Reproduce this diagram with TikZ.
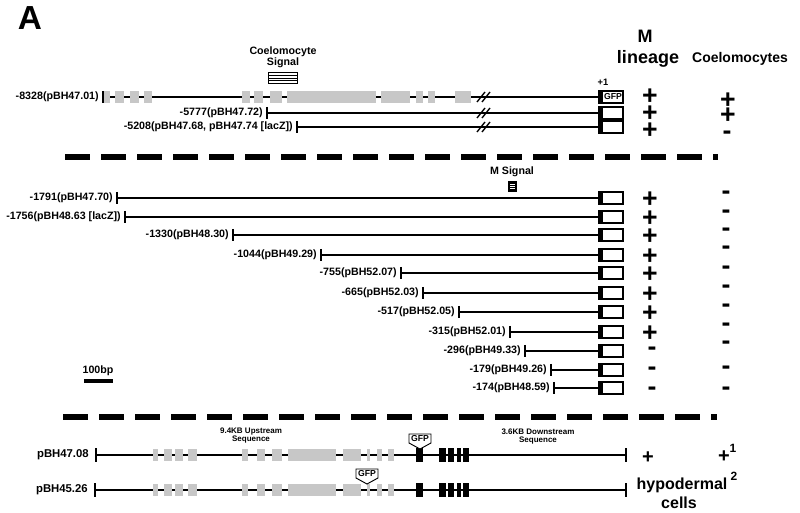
\documentclass[tikz,border=0pt]{standalone}
\usepackage{fontspec}
\setmainfont{Liberation Sans}
\usetikzlibrary{calc}
\begin{document}
\begin{tikzpicture}[x=0.75pt,y=-0.75pt,
  lab/.style={font=\fontsize{8}{9.6}\selectfont\bfseries, inner sep=0pt, anchor=east},
  blab/.style={font=\fontsize{8.5}{10}\selectfont\bfseries, inner sep=0pt, anchor=east},
  dna/.style={line width=1.3pt},
  tickst/.style={line width=1.9pt},
  endtick/.style={line width=1pt},
  gfpbox/.style={draw, line width=0.8pt, minimum width=18pt, minimum height=9pt, inner sep=0pt,
    font=\fontsize{6.5}{7}\selectfont\bfseries,
    path picture={\fill[black] (path picture bounding box.south west) rectangle ([xshift=3pt]path picture bounding box.north west);}},
  exon/.style={fill=black!22},
  bexon/.style={fill=black},
  pmst/.style={font=\fontsize{20}{20}\selectfont\bfseries, inner sep=0pt, anchor=base},
  pmsmall/.style={font=\fontsize{15}{15}\selectfont\bfseries, inner sep=0pt, anchor=base},
  sepline/.style={line width=4.5pt, dash pattern=on 18.75pt off 8.25pt},
  hdr/.style={font=\fontsize{13.5}{14}\selectfont\bfseries, inner sep=0pt, anchor=base},
  smalltxt/.style={font=\fontsize{6}{6}\selectfont\bfseries, align=center, inner sep=0pt},
  midtxt/.style={font=\fontsize{8}{8.5}\selectfont\bfseries, align=center, inner sep=0pt},
  gfptag/.style={draw, line width=0.7pt, fill=white},
  gfptxt/.style={font=\fontsize{6.5}{7}\selectfont\bfseries, inner sep=0pt},
  stripebox/.style={draw, line width=0.8pt, inner sep=0pt, fill=white},
]
\useasboundingbox (0,0) rectangle (800,513);

% panel letter
\node[font=\fontsize{25}{25}\selectfont\bfseries, anchor=base, inner sep=0pt] (A) at (30,30) {A};

% column headers
\node[hdr] (hM) at (645,43) {M};
\node[hdr] (hL) at (648,63.5) {lineage};
\node[font=\fontsize{10.5}{11}\selectfont\bfseries, anchor=base, inner sep=0pt] (hC) at (740,62.5) {Coelomocytes};

% coelomocyte signal
\node[midtxt] (cs) at (283,57) {Coelomocyte\\Signal};
\node[stripebox, minimum width=21.75pt, minimum height=8.25pt,
  path picture={\foreach \f in {0.25,0.5,0.75}
    \draw[line width=0.6pt] ($(path picture bounding box.south west)!\f!(path picture bounding box.north west)$) -- ($(path picture bounding box.south east)!\f!(path picture bounding box.north east)$);}] (cbox) at (283,78) {};

% ---------- top three constructs ----------
\node[font=\fontsize{7}{7}\selectfont\bfseries, inner sep=0pt] (p1) at (603,82) {+1};

\node[lab] (L1) at (99,97) {-8328(pBH47.01)};
\coordinate (T1) at (103,97);
\node[gfpbox] (G1) at (611,97) {\hspace*{3pt}GFP};
\draw[dna] (T1) -- (G1.west);
\foreach \a/\b in {104/110,115/124,130/139,144/152,242/250,254/263,270/282,287/376,381/410,416/423,428/435,455/471}
  \fill[exon] (\a,91) rectangle (\b,103);
\draw[tickst] (103,91) -- (103,103);

\node[lab] (L2) at (263,113) {-5777(pBH47.72)};
\coordinate (T2) at (267,113);
\node[gfpbox] (G2) at (611,113) {};
\draw[dna] (T2) -- (G2.west);
\draw[tickst] (267,107) -- (267,119);

\node[lab] (L3) at (293,127) {-5208(pBH47.68, pBH47.74 [lacZ])};
\coordinate (T3) at (297,127);
\node[gfpbox] (G3) at (611,127) {};
\draw[dna] (T3) -- (G3.west);
\draw[tickst] (297,121) -- (297,133);

\foreach \yy in {97,113,127}{
  \draw[line width=1pt] (477,\yy+5) -- (485,\yy-5);
  \draw[line width=1pt] (482,\yy+5) -- (490,\yy-5);
}

% signs top
\node[pmst] (m1) at (650,95+9.3) {+};
\node[pmst] (m2) at (650,112+9.3) {+};
\node[pmst] (m3) at (650,129+9.3) {+};
\node[pmst] (c1) at (728,99+9.3) {+};
\node[pmst] (c2) at (728,114+9.3) {+};
\node[pmst] (c3) at (727,133+6.9) {-};

% separator
\draw[sepline] (65,157) -- (718,157);

% M signal
\node[midtxt] (ms) at (512,172) {M Signal};
\node[stripebox, minimum width=5.25pt, minimum height=6.75pt,
  path picture={\foreach \f in {0.2,0.4,0.6,0.8}
    \draw[line width=0.5pt] ($(path picture bounding box.south west)!\f!(path picture bounding box.north west)$) -- ($(path picture bounding box.south east)!\f!(path picture bounding box.north east)$);}] (mbox) at (512.5,186.5) {};

% ---------- deletion series ----------
\foreach \n/\y/\t/\l in {
  a/198/117/{-1791(pBH47.70)},
  b/217/125/{-1756(pBH48.63 [lacZ])},
  c/235/233/{-1330(pBH48.30)},
  d/255/321/{-1044(pBH49.29)},
  e/273/401/{-755(pBH52.07)},
  f/293/423/{-665(pBH52.03)},
  g/312/459/{-517(pBH52.05)},
  h/332/510/{-315(pBH52.01)},
  i/351/525/{-296(pBH49.33)},
  j/370/551/{-179(pBH49.26)},
  k/388/554/{-174(pBH48.59)}}{
  \node[lab] (L\n) at (\t-4,\y) {\l};
  \coordinate (T\n) at (\t,\y);
  \node[gfpbox] (G\n) at (611,\y) {};
  \draw[dna] (T\n) -- (G\n.west);
  \draw[tickst] (\t,\y-6) -- (\t,\y+6);
}

% M lineage signs
\foreach \n/\y in {a/198,b/217,c/235,d/255,e/273,f/293,g/312,h/332}
  \node[pmst] (m\n) at (650,\y+9.3) {+};
\foreach \n/\y in {i/349,j/369,k/389}
  \node[pmst] (m\n) at (652,\y+6.9) {-};
% coelomocyte signs
\foreach \n/\y in {a/193,b/212,c/230,d/248,e/268,f/287,g/306,h/325,i/343,j/368,k/389}
  \node[pmst] (c\n) at (726,\y+6.9) {-};

% scale bar
\node[font=\fontsize{8}{8}\selectfont\bfseries, inner sep=0pt] (bp) at (98,371) {100bp};
\draw[line width=3pt] (84,381) -- (113,381);

% separator
\draw[sepline] (63,417) -- (717,417);

% ---------- genomic constructs ----------
\node[smalltxt] (up) at (251,436) {9.4KB Upstream\\Sequence};
\node[smalltxt] (down) at (538,437) {3.6KB Downstream\\Sequence};

\foreach \n/\y/\t/\l in {r/455/96/pBH47.08, s/490/95/pBH45.26}{
  \node[blab] (B\n) at (\t-7,\y) {\l};
  \coordinate (S\n) at (\t,\y);
  \coordinate (E\n) at (626,\y);
  \draw[dna] (S\n) -- (E\n);
  \draw[tickst] (\t,\y-7) -- (\t,\y+7);
  \draw[endtick] (626,\y-7) -- (626,\y+7);
  \foreach \a/\b in {153/158,164/172,175/183,188/197,242/248,257/265,272/282,288/336,343/361,367/370,377/382,388/394}
    \fill[exon] (\a,\y-6) rectangle (\b,\y+6);
  \foreach \a/\b in {416/423,439/446,448/454,457/461,463/469}
    \fill[bexon] (\a,\y-7) rectangle (\b,\y+7);
}

% GFP tags
\draw[gfptag] (409,434) -- (431,434) -- (431,443) -- (420,449) -- (409,443) -- cycle;
\node[gfptxt] (tag1) at (420,438.5) {GFP};
\draw[gfptag] (356,469) -- (378,469) -- (378,478) -- (367,484) -- (356,478) -- cycle;
\node[gfptxt] (tag2) at (367,473.5) {GFP};

% hypodermal results
\node[pmsmall] (mr) at (648,456+7) {+};
\node[pmsmall] (cr) at (724,455+7) {+};
\node[font=\fontsize{9}{9}\selectfont\bfseries, inner sep=0pt] (sup1) at (733,448) {1};
\node[font=\fontsize{12}{12}\selectfont\bfseries, anchor=base, inner sep=0pt] (hyp) at (682,489) {hypodermal};
\node[font=\fontsize{9}{9}\selectfont\bfseries, inner sep=0pt] (sup2) at (734,476) {2};
\node[font=\fontsize{12}{12}\selectfont\bfseries, anchor=base, inner sep=0pt] (cells) at (679,508) {cells};
\end{tikzpicture}
\end{document}
